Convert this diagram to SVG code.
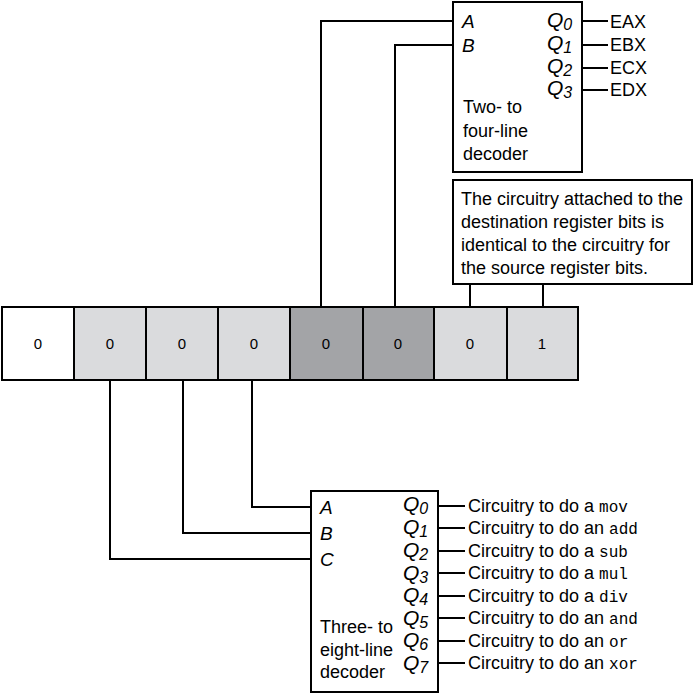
<svg xmlns="http://www.w3.org/2000/svg" width="695" height="697" viewBox="0 0 695 697">
<style>
.box{fill:#fff;stroke:#000;stroke-width:2}
.cell{stroke:#000;stroke-width:2}
.w{fill:#fff}.l{fill:#dadbdd}.d{fill:#a3a4a7}
.wire{fill:none;stroke:#000;stroke-width:2}
.t{font-family:"Liberation Sans",Arial,sans-serif;font-size:18px;fill:#000}
.i{font-family:"Liberation Sans",Arial,sans-serif;font-size:19px;font-style:italic;fill:#000}
.q{font-family:"Liberation Sans",Arial,sans-serif;font-size:21px;font-style:italic;fill:#000}
.s{font-size:16px}
.m{font-family:"Liberation Mono","DejaVu Sans Mono",monospace;font-size:16px}
.bit{font-family:"Liberation Sans",Arial,sans-serif;font-size:15px;fill:#000;text-anchor:middle}
</style>
<rect width="695" height="697" fill="#fff"/>

<g id="connectors">
<path class="wire" d="M321 307V21H453"/>
<path class="wire" d="M395 307V45H453"/>
<path class="wire" d="M470 284V307M543 284V307"/>
<path class="wire" d="M252 380V507H311"/>
<path class="wire" d="M183 380V533H311"/>
<path class="wire" d="M110 380V559H311"/>
<path class="wire" d="M582 21H608M582 45H608M582 68H608M582 90H608"/>
<path class="wire" d="M438 506H465M438 528H465M438 551H465M438 573H465M438 596H465M438 618H465M438 641H465M438 663H465"/>
</g>

<g id="register">
<rect class="cell w" x="2" y="307" width="72" height="73"/>
<rect class="cell l" x="74" y="307" width="72" height="73"/>
<rect class="cell l" x="146" y="307" width="72" height="73"/>
<rect class="cell l" x="218" y="307" width="72" height="73"/>
<rect class="cell d" x="290" y="307" width="73" height="73"/>
<rect class="cell d" x="363" y="307" width="71" height="73"/>
<rect class="cell l" x="434" y="307" width="73" height="73"/>
<rect class="cell l" x="507" y="307" width="71" height="73"/>
<text class="bit" x="38" y="349">0</text>
<text class="bit" x="110" y="349">0</text>
<text class="bit" x="182" y="349">0</text>
<text class="bit" x="254" y="349">0</text>
<text class="bit" x="326" y="349">0</text>
<text class="bit" x="398" y="349">0</text>
<text class="bit" x="470" y="349">0</text>
<text class="bit" x="542" y="349">1</text>
</g>

<g id="decoder2to4">
<rect class="box" x="453" y="2" width="129" height="170"/>
<text class="i" x="462" y="28">A</text>
<text class="i" x="462" y="52">B</text>
<text class="q" x="547" y="27">Q<tspan class="s" dy="3">0</tspan></text>
<text class="q" x="547" y="50">Q<tspan class="s" dy="3">1</tspan></text>
<text class="q" x="547" y="73">Q<tspan class="s" dy="3">2</tspan></text>
<text class="q" x="547" y="95">Q<tspan class="s" dy="3">3</tspan></text>
<text class="t" x="463" y="113">Two- to</text>
<text class="t" x="463" y="137">four-line</text>
<text class="t" x="463" y="160">decoder</text>
</g>

<g id="registers-out">
<text class="t" x="610" y="28">EAX</text>
<text class="t" x="610" y="51">EBX</text>
<text class="t" x="610" y="74">ECX</text>
<text class="t" x="610" y="96">EDX</text>
</g>

<g id="note">
<rect class="box" x="453" y="180" width="239" height="104"/>
<text class="t" x="461" y="205">The circuitry attached to the</text>
<text class="t" x="461" y="228">destination register bits is</text>
<text class="t" x="461" y="251">identical to the circuitry for</text>
<text class="t" x="461" y="274">the source register bits.</text>
</g>

<g id="decoder3to8">
<rect class="box" x="311" y="491" width="127" height="201"/>
<text class="i" x="320" y="514">A</text>
<text class="i" x="320" y="540">B</text>
<text class="i" x="320" y="566">C</text>
<text class="q" x="403" y="511">Q<tspan class="s" dy="3">0</tspan></text>
<text class="q" x="403" y="534">Q<tspan class="s" dy="3">1</tspan></text>
<text class="q" x="403" y="557">Q<tspan class="s" dy="3">2</tspan></text>
<text class="q" x="403" y="580">Q<tspan class="s" dy="3">3</tspan></text>
<text class="q" x="403" y="602">Q<tspan class="s" dy="3">4</tspan></text>
<text class="q" x="403" y="625">Q<tspan class="s" dy="3">5</tspan></text>
<text class="q" x="403" y="647">Q<tspan class="s" dy="3">6</tspan></text>
<text class="q" x="403" y="670">Q<tspan class="s" dy="3">7</tspan></text>
<text class="t" x="320" y="633">Three- to</text>
<text class="t" x="320" y="656">eight-line</text>
<text class="t" x="320" y="678">decoder</text>
</g>

<g id="operations">
<text class="t" x="468" y="512">Circuitry to do a <tspan class="m">mov</tspan></text>
<text class="t" x="468" y="534">Circuitry to do an <tspan class="m">add</tspan></text>
<text class="t" x="468" y="557">Circuitry to do a <tspan class="m">sub</tspan></text>
<text class="t" x="468" y="579">Circuitry to do a <tspan class="m">mul</tspan></text>
<text class="t" x="468" y="602">Circuitry to do a <tspan class="m">div</tspan></text>
<text class="t" x="468" y="624">Circuitry to do an <tspan class="m">and</tspan></text>
<text class="t" x="468" y="647">Circuitry to do an <tspan class="m">or</tspan></text>
<text class="t" x="468" y="669">Circuitry to do an <tspan class="m">xor</tspan></text>
</g>
</svg>
